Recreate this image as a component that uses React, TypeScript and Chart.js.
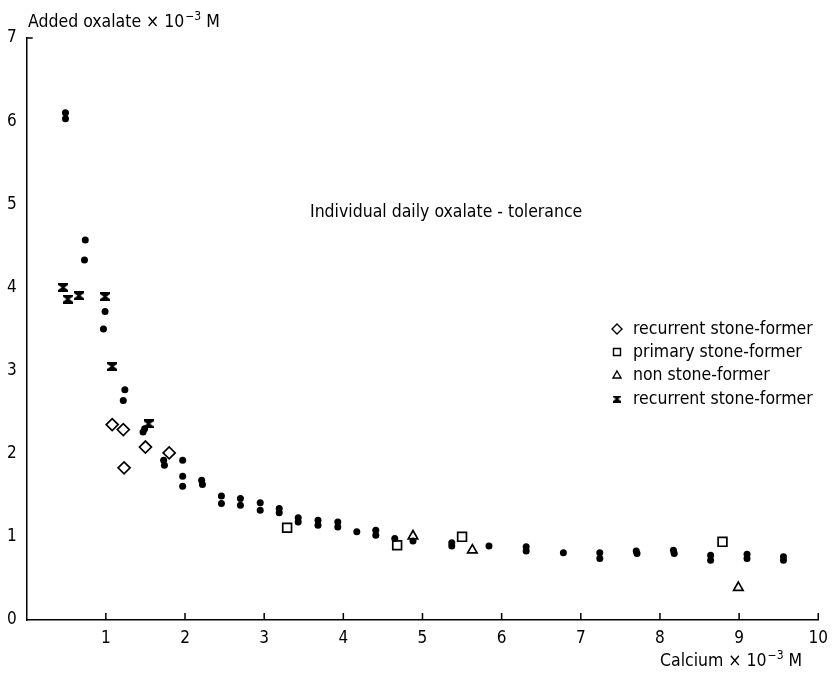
import React, { useEffect, useRef } from 'react';
import { Chart, registerables } from 'chart.js';

Chart.register(...registerables);

// Daily measurements (filled dots)
const dotX = [0.49, 0.49, 0.74, 0.73, 0.99, 0.97, 1.24, 1.22, 1.47, 1.49, 1.73, 1.74, 1.97, 1.97, 1.97, 2.21, 2.22, 2.46, 2.46, 2.70, 2.70, 2.95, 2.95, 3.19, 3.19, 3.43, 3.43, 3.68, 3.68, 3.93, 3.93, 4.17, 4.41, 4.41, 4.65, 4.88, 5.37, 5.37, 5.84, 6.31, 6.31, 6.78, 7.24, 7.24, 7.70, 7.71, 8.17, 8.18, 8.64, 8.64, 9.10, 9.10, 9.56, 9.56];
const dotY = [6.10, 6.03, 4.57, 4.33, 3.71, 3.50, 2.77, 2.64, 2.26, 2.30, 1.92, 1.86, 1.92, 1.73, 1.61, 1.68, 1.63, 1.49, 1.40, 1.46, 1.38, 1.41, 1.32, 1.34, 1.29, 1.23, 1.18, 1.20, 1.14, 1.18, 1.12, 1.06, 1.08, 1.02, 0.98, 0.95, 0.93, 0.89, 0.89, 0.88, 0.83, 0.81, 0.81, 0.74, 0.83, 0.80, 0.84, 0.80, 0.78, 0.72, 0.79, 0.74, 0.76, 0.72];

// Recurrent stone-former (diamonds)
const diamondX = [1.08, 1.22, 1.50, 1.80, 1.23];
const diamondY = [2.35, 2.29, 2.08, 2.01, 1.83];

// Primary stone-former (squares)
const squareX = [3.29, 4.68, 5.50, 8.79];
const squareY = [1.11, 0.90, 1.00, 0.94];

// Non stone-former (triangles)
const triangleX = [4.88, 5.63, 8.99];
const triangleY = [1.01, 0.84, 0.39];

// Recurrent stone-former (hourglass markers)
const hourglassX = [0.46, 0.52, 0.66, 0.99, 1.08, 1.54];
const hourglassY = [4.00, 3.86, 3.90, 3.89, 3.05, 2.36];

const xTickValues = [1, 2, 3, 4, 5, 6, 7, 8, 9, 10];
const yTickValues = [0, 1, 2, 3, 4, 5, 6, 7];

const legendLabels = [
  'recurrent stone-former',
  'primary stone-former',
  'non stone-former',
  'recurrent stone-former',
];

const FONT = '"DejaVu Sans Condensed", "DejaVu Sans", sans-serif';
const TEXT_SIZE = 17.5;

function pts(xs: number[], ys: number[]) {
  return xs.map((x, i) => ({ x, y: ys[i] }));
}

function makeHourglass(w: number, h: number): HTMLCanvasElement {
  const c = document.createElement('canvas');
  c.width = w;
  c.height = h;
  const g = c.getContext('2d')!;
  g.fillStyle = '#000';
  const t = h * 0.22;
  const waist = w * 0.14;
  g.beginPath();
  g.moveTo(0, 0);
  g.lineTo(w, 0);
  g.lineTo(w, t);
  g.lineTo(w / 2 + waist, h / 2);
  g.lineTo(w, h - t);
  g.lineTo(w, h);
  g.lineTo(0, h);
  g.lineTo(0, h - t);
  g.lineTo(w / 2 - waist, h / 2);
  g.lineTo(0, t);
  g.closePath();
  g.fill();
  return c;
}

function drawSupText(ctx: CanvasRenderingContext2D, x: number, y: number, base: string, sup: string, tail: string, size: number) {
  ctx.textBaseline = 'alphabetic';
  ctx.textAlign = 'left';
  ctx.font = `${size}px ${FONT}`;
  ctx.fillText(base, x, y);
  let cx = x + ctx.measureText(base).width + 1;
  ctx.font = `${Math.round(size * 0.68)}px ${FONT}`;
  ctx.fillText(sup, cx, y - size * 0.42);
  cx += ctx.measureText(sup).width;
  ctx.font = `${size}px ${FONT}`;
  ctx.fillText(tail, cx, y);
}

export default function App() {
  const ref = useRef<HTMLCanvasElement | null>(null);

  useEffect(() => {
    if (!ref.current) return;
    const hourglass = makeHourglass(10, 9);
    const hourglassSmall = makeHourglass(8, 7);

    const decorations = {
      id: 'decorations',
      afterDraw(chart: any) {
        const ctx: CanvasRenderingContext2D = chart.ctx;
        const xs = chart.scales.x;
        const ys = chart.scales.y;
        const area = chart.chartArea;
        ctx.save();
        ctx.strokeStyle = '#000';
        ctx.fillStyle = '#000';
        ctx.lineWidth = 1.5;

        // inward tick marks on the calcium axis
        ctx.beginPath();
        xTickValues.forEach((v) => {
          const px = xs.getPixelForValue(v);
          ctx.moveTo(px, area.bottom);
          ctx.lineTo(px, area.bottom - 7);
        });
        // small hook at the top of the oxalate axis
        const topY = ys.getPixelForValue(7);
        ctx.moveTo(area.left, topY);
        ctx.lineTo(area.left + 6, topY);
        ctx.stroke();

        // axis titles
        drawSupText(ctx, 28, 27, 'Added oxalate × 10', '−3', ' M', TEXT_SIZE);
        drawSupText(ctx, 660, 666, 'Calcium × 10', '−3', ' M', TEXT_SIZE);

        // annotation
        ctx.font = `${TEXT_SIZE}px ${FONT}`;
        ctx.textAlign = 'left';
        ctx.textBaseline = 'middle';
        ctx.fillText('Individual daily oxalate - tolerance', 310, 212);

        // legend
        const rows = [329, 352, 375, 399];
        const mx = 617;
        rows.forEach((ry, i) => {
          ctx.lineWidth = 1.4;
          ctx.beginPath();
          if (i === 0) {
            ctx.moveTo(mx, ry - 5);
            ctx.lineTo(mx + 5, ry);
            ctx.lineTo(mx, ry + 5);
            ctx.lineTo(mx - 5, ry);
            ctx.closePath();
            ctx.stroke();
          } else if (i === 1) {
            ctx.rect(mx - 3.5, ry - 3.5, 7, 7);
            ctx.stroke();
          } else if (i === 2) {
            ctx.moveTo(mx, ry - 4);
            ctx.lineTo(mx + 4, ry + 3);
            ctx.lineTo(mx - 4, ry + 3);
            ctx.closePath();
            ctx.stroke();
          } else {
            ctx.drawImage(hourglassSmall, mx - 4, ry - 3.5);
          }
          ctx.font = `${TEXT_SIZE}px ${FONT}`;
          ctx.textBaseline = 'middle';
          ctx.fillText(legendLabels[i], 633, ry);
        });
        ctx.restore();
      },
    };

    const chart = new Chart(ref.current, {
      type: 'scatter',
      data: {
        datasets: [
          {
            label: 'daily',
            data: pts(dotX, dotY),
            pointStyle: 'circle',
            pointRadius: 3.5,
            backgroundColor: '#000',
            borderColor: '#000',
            borderWidth: 0,
          },
          {
            label: legendLabels[0],
            data: pts(diamondX, diamondY),
            pointStyle: 'rectRot',
            pointRadius: 6,
            backgroundColor: '#fff',
            borderColor: '#000',
            borderWidth: 1.7,
          },
          {
            label: legendLabels[1],
            data: pts(squareX, squareY),
            pointStyle: 'rect',
            pointRadius: 6.2,
            backgroundColor: '#fff',
            borderColor: '#000',
            borderWidth: 1.7,
          },
          {
            label: legendLabels[2],
            data: pts(triangleX, triangleY),
            pointStyle: 'triangle',
            pointRadius: 5.5,
            backgroundColor: '#fff',
            borderColor: '#000',
            borderWidth: 1.7,
          },
          {
            label: legendLabels[3],
            data: pts(hourglassX, hourglassY),
            pointStyle: hourglass,
            pointRadius: 5,
            backgroundColor: '#000',
            borderColor: '#000',
          },
        ],
      },
      options: {
        animation: false,
        responsive: false,
        maintainAspectRatio: false,
        layout: { padding: { top: 38, right: 10.3, left: 0, bottom: 0 } },
        plugins: {
          legend: { display: false },
          tooltip: { enabled: false },
        },
        scales: {
          x: {
            type: 'linear',
            min: 0,
            max: 10,
            afterFit: (s: any) => {
              s.height = 57;
            },
            afterBuildTicks: (s: any) => {
              s.ticks = [0, ...xTickValues].map((v) => ({ value: v }));
            },
            grid: { display: false, drawTicks: false },
            border: { display: true, color: '#000', width: 1.5 },
            ticks: {
              padding: 8,
              color: '#000',
              font: { family: FONT, size: 17 },
              maxRotation: 0,
              autoSkip: false,
              callback: (v: any) => (v === 0 ? '' : String(v)),
            },
          },
          y: {
            type: 'linear',
            min: 0,
            max: 7,
            afterFit: (s: any) => {
              s.width = 26.7;
            },
            afterBuildTicks: (s: any) => {
              s.ticks = yTickValues.map((v) => ({ value: v }));
            },
            grid: { display: false, drawTicks: false },
            border: { display: true, color: '#000', width: 1.5 },
            ticks: {
              padding: 10,
              color: '#000',
              font: { family: FONT, size: 17 },
              callback: (v: any) => String(v),
            },
          },
        },
      },
      plugins: [decorations],
    });
    return () => chart.destroy();
  }, []);

  return (
    <div style={{ position: 'fixed', left: 0, top: 0, width: 836, height: 677, background: '#fff' }}>
      <canvas ref={ref} width={836} height={677} style={{ width: 836, height: 677, display: 'block' }} />
    </div>
  );
}
